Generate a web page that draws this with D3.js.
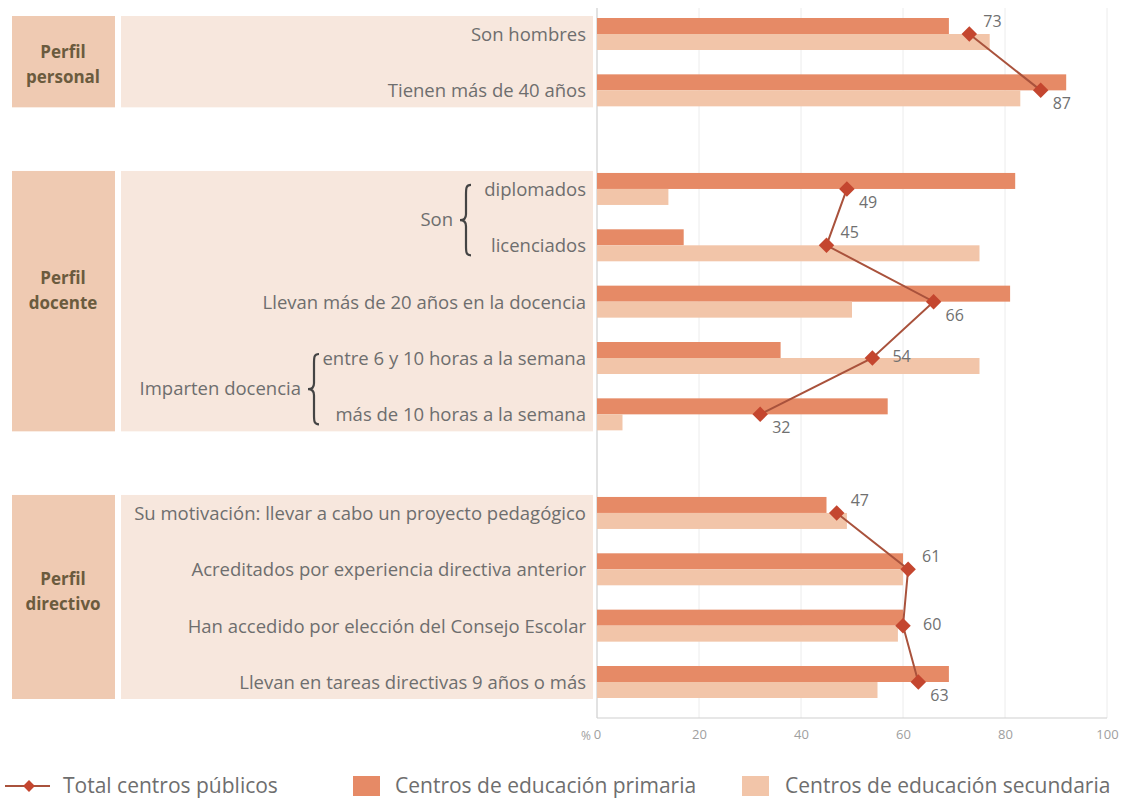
<!DOCTYPE html>
<html>
<head>
<meta charset="utf-8">
<script src="https://cdn.jsdelivr.net/npm/d3@7"></script>
<style>
  html, body { margin: 0; padding: 0; background: #ffffff; }
  svg { display: block; font-family: "Open Sans", "Noto Sans", sans-serif; }
</style>
</head>
<body>
<svg id="chart" width="1141" height="801"></svg>
<script>
// ---------------- DATA ----------------
const groupNames = [["Perfil", "personal"], ["Perfil", "docente"], ["Perfil", "directivo"]];
const rowGroup = [0, 0, 1, 1, 1, 1, 1, 2, 2, 2, 2];
const categories = [
  "Son hombres",
  "Tienen más de 40 años",
  "diplomados",
  "licenciados",
  "Llevan más de 20 años en la docencia",
  "entre 6 y 10 horas a la semana",
  "más de 10 horas a la semana",
  "Su motivación: llevar a cabo un proyecto pedagógico",
  "Acreditados por experiencia directiva anterior",
  "Han accedido por elección del Consejo Escolar",
  "Llevan en tareas directivas 9 años o más"
];
const bracketLabels = ["Son", "Imparten docencia"];
const bracketRows = [[2, 3], [5, 6]];
const primaria   = [69, 92, 82, 17, 81, 36, 57, 45, 60, 60, 69];
const secundaria = [77, 83, 14, 75, 50, 75, 5, 49, 60, 59, 55];
const total      = [73, 87, 49, 45, 66, 54, 32, 47, 61, 60, 63];
const labelSide  = ["above", "below", "below", "above", "below", "right", "below", "above", "above", "right", "below"];
const xTicks = [0, 20, 40, 60, 80, 100];
const legendLabels = ["Total centros públicos", "Centros de educación primaria", "Centros de educación secundaria"];

// ---------------- STYLE ----------------
const C = {
  prim: "#e68a66",
  sec: "#f2c5a9",
  groupBox: "#efcab2",
  panel: "#f7e7dd",
  groupText: "#6b5b3e",
  rowText: "#6e6e6e",
  diamond: "#c4462f",
  line: "#a9523c",
  grid: "#ececec",
  axis: "#cfcfcf",
  tick: "#a0a0a0"
};

const svg = d3.select("#chart");

// scales
const x = d3.scaleLinear().domain([0, 100]).range([597, 1107]);
const slot = (i) => i + rowGroup[i] * 0.75;
const y = d3.scaleLinear().domain([0, 11.5]).range([34, 682]);
const yc = (i) => y(slot(i));
const barH = 16;
const groupTextShift = [3, -11, -5];

// ---------------- LEFT PANELS ----------------
groupNames.forEach((g, gi) => {
  const rows = d3.range(categories.length).filter(i => rowGroup[i] === gi);
  const top = yc(rows[0]) - 18;
  const bot = yc(rows[rows.length - 1]) + 17;
  svg.append("rect").attr("x", 12).attr("y", top).attr("width", 103).attr("height", bot - top)
    .attr("fill", C.groupBox);
  svg.append("rect").attr("x", 121).attr("y", top).attr("width", 472).attr("height", bot - top)
    .attr("fill", C.panel);
  const mid = (top + bot) / 2 + groupTextShift[gi];
  const t = svg.append("text").attr("x", 63).attr("y", mid - 6.5)
    .attr("text-anchor", "middle").attr("fill", C.groupText)
    .attr("font-size", 17).attr("font-weight", 700);
  t.append("tspan").attr("x", 63).attr("dy", 0).text(g[0]);
  t.append("tspan").attr("x", 63).attr("dy", 25).text(g[1]);
});

// row labels
svg.append("g").selectAll("text").data(categories).join("text")
  .attr("x", 586).attr("y", (d, i) => yc(i) + 7)
  .attr("text-anchor", "end").attr("fill", C.rowText).attr("font-size", 18.5)
  .text(d => d);

// brackets
const braceX = [466, 314];
bracketLabels.forEach((lab, k) => {
  const [a, b] = bracketRows[k];
  const y0 = yc(a) - 4, y1 = yc(b) + 10, ym = (y0 + y1) / 2;
  const bx = braceX[k];
  const path = `M${bx + 5},${y0} C${bx},${y0} ${bx},${y0 + 3} ${bx},${y0 + 10} L${bx},${ym - 6} C${bx},${ym - 2} ${bx - 2},${ym} ${bx - 6},${ym} C${bx - 2},${ym} ${bx},${ym + 2} ${bx},${ym + 6} L${bx},${y1 - 10} C${bx},${y1 - 3} ${bx},${y1} ${bx + 5},${y1}`;
  svg.append("path").attr("d", path).attr("fill", "none").attr("stroke", "#444").attr("stroke-width", 2.2);
  svg.append("text").attr("x", bx - 13).attr("y", ym + 6).attr("text-anchor", "end")
    .attr("fill", C.rowText).attr("font-size", 18.5).text(lab);
});

// ---------------- GRID / AXIS ----------------
svg.append("g").selectAll("line").data(xTicks.slice(1)).join("line")
  .attr("x1", d => x(d)).attr("x2", d => x(d)).attr("y1", 8).attr("y2", 718)
  .attr("stroke", C.grid).attr("stroke-width", 1);
svg.append("line").attr("x1", x(0)).attr("x2", x(0)).attr("y1", 8).attr("y2", 718)
  .attr("stroke", C.axis).attr("stroke-width", 1.2);
svg.append("line").attr("x1", x(0)).attr("x2", x(100)).attr("y1", 718).attr("y2", 718)
  .attr("stroke", C.axis).attr("stroke-width", 1.2);

const axis = d3.axisBottom(x).tickValues(xTicks).tickSize(0).tickPadding(0);
const ag = svg.append("g").attr("transform", "translate(0,730)").call(axis);
ag.select(".domain").remove();
ag.selectAll("text").attr("fill", C.tick).attr("font-size", 13)
  .attr("font-family", "'Open Sans', sans-serif");
svg.append("text").attr("x", x(0) - 6).attr("y", 740).attr("text-anchor", "end")
  .attr("fill", C.tick).attr("font-size", 12).text("%");

// ---------------- BARS ----------------
svg.append("g").selectAll("rect").data(primaria).join("rect")
  .attr("x", x(0)).attr("y", (d, i) => yc(i) - barH)
  .attr("width", d => x(d) - x(0)).attr("height", barH).attr("fill", C.prim);
svg.append("g").selectAll("rect").data(secundaria).join("rect")
  .attr("x", x(0)).attr("y", (d, i) => yc(i))
  .attr("width", d => x(d) - x(0)).attr("height", barH).attr("fill", C.sec);

// ---------------- TOTAL LINE ----------------
const line = d3.line().x(d => x(d.v)).y(d => yc(d.i));
[0, 1, 2].forEach(gi => {
  const pts = total.map((v, i) => ({ v, i })).filter(p => rowGroup[p.i] === gi);
  svg.append("path").attr("d", line(pts)).attr("fill", "none")
    .attr("stroke", C.line).attr("stroke-width", 2);
});
const diamond = d3.symbol().type(d3.symbolSquare).size(120);
svg.append("g").selectAll("path").data(total).join("path")
  .attr("d", diamond)
  .attr("transform", (d, i) => `translate(${x(d)},${yc(i)}) rotate(45)`)
  .attr("fill", C.diamond);

const off = { above: [14, -7], below: [12, 19], right: [20, 4] };
svg.append("g").selectAll("text").data(total).join("text")
  .attr("x", (d, i) => x(d) + off[labelSide[i]][0])
  .attr("y", (d, i) => yc(i) + off[labelSide[i]][1])
  .attr("fill", "#707070").attr("font-size", 16)
  .text(d => d);

// ---------------- LEGEND ----------------
const ly = 786;
svg.append("line").attr("x1", 5).attr("x2", 50).attr("y1", ly).attr("y2", ly)
  .attr("stroke", C.line).attr("stroke-width", 2);
svg.append("path").attr("d", d3.symbol().type(d3.symbolSquare).size(70))
  .attr("transform", `translate(29,${ly}) rotate(45)`).attr("fill", C.diamond);
svg.append("text").attr("x", 63).attr("y", ly + 7).attr("fill", "#6e6e6e").attr("font-size", 21).text(legendLabels[0]);
svg.append("rect").attr("x", 353).attr("y", ly - 10).attr("width", 27).attr("height", 20).attr("fill", C.prim);
svg.append("text").attr("x", 395).attr("y", ly + 7).attr("fill", "#6e6e6e").attr("font-size", 21).text(legendLabels[1]);
svg.append("rect").attr("x", 742).attr("y", ly - 10).attr("width", 27).attr("height", 20).attr("fill", C.sec);
svg.append("text").attr("x", 785).attr("y", ly + 7).attr("fill", "#6e6e6e").attr("font-size", 21).text(legendLabels[2]);
</script>
</body>
</html>
